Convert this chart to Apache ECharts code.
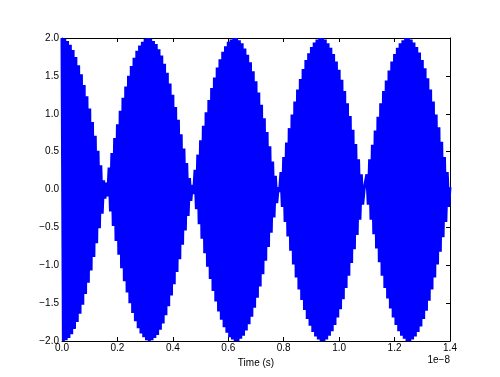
<!DOCTYPE html>
<html><head><meta charset="utf-8">
<script src="https://cdn.jsdelivr.net/npm/echarts@6/dist/echarts.min.js"></script>
<style>html,body{margin:0;padding:0;background:#fff}#c{width:500px;height:377px}</style>
</head><body><div id="c"></div>
<script>
// Time step between successive carrier peaks, in units of 1e-8 s
var timeStep = 0.01;
// Envelope amplitude read at each carrier peak (t = 0, 0.01, 0.02, ... x 1e-8 s)
var envelopePeaks = [
2.00,1.99,1.96,1.91,1.84,1.75,1.64,1.52,1.38,1.23,1.07,0.89,0.71,0.51,0.32,0.12,
0.09,0.29,0.48,0.68,0.86,1.04,1.21,1.36,1.50,1.63,1.74,1.83,1.90,1.95,1.99,2.00,
1.99,1.96,1.92,1.85,1.77,1.66,1.54,1.40,1.25,1.09,0.92,0.73,0.54,0.35,0.15,
0.06,0.26,0.46,0.65,0.84,1.02,1.18,1.34,1.48,1.61,1.72,1.82,1.89,1.95,1.98,2.00,
2.00,1.97,1.93,1.86,1.78,1.68,1.56,1.43,1.28,1.12,0.94,0.76,0.57,0.37,0.18,
0.03,0.23,0.43,0.62,0.81,0.99,1.16,1.32,1.46,1.59,1.71,1.80,1.88,1.94,1.98,2.00,
2.00,1.98,1.93,1.87,1.79,1.69,1.58,1.45,1.30,1.14,0.97,0.79,0.60,0.40,0.20,
0.00,0.20,0.40,0.59,0.78,0.96,1.14,1.30,1.44,1.57,1.69,1.79,1.87,1.93,1.97,2.00,
2.00,1.98,1.94,1.88,1.81,1.71,1.60,1.47,1.32,1.16,0.99,0.82,0.63,0.43,0.23,0.03
];
var xTicks = [0.0,0.2,0.4,0.6,0.8,1.0,1.2,1.4];
var yTicks = [-2.0,-1.5,-1.0,-0.5,0.0,0.5,1.0,1.5,2.0];

// signal: positive peak at each step, negative trough half a step later
var signal = [];
envelopePeaks.forEach(function(a, i){
  var t = i * timeStep;
  signal.push([t, a]);
  if (i < envelopePeaks.length - 1) signal.push([t + timeStep/2, -a]);
});

var FONT = '"Liberation Sans", Arial, sans-serif';
function fmtY(v){ return (v < 0 ? '\u2212' : '') + Math.abs(v).toFixed(1); }
var axisCommon = {
  type: 'value',
  axisLine: {show: true, onZero: false, lineStyle: {color: '#000', width: 1}},
  axisTick: {show: true, inside: true, length: 4, lineStyle: {color: '#000'}},
  splitLine: {show: false}
};
var chart = echarts.init(document.getElementById('c'), null, {renderer: 'canvas'});
chart.setOption({
  animation: false,
  backgroundColor: '#fff',
  grid: {left: 62, right: 50, top: 38, bottom: 36, containLabel: false},
  xAxis: [
    Object.assign({}, axisCommon, {position: 'bottom', min: xTicks[0], max: xTicks[xTicks.length-1], interval: 0.2,
      axisLabel: {color: '#000', fontFamily: FONT, fontSize: 10, margin: 2,
        formatter: function(v){ return v.toFixed(1); }},
      name: 'Time (s)', nameLocation: 'middle', nameGap: 15,
      nameTextStyle: {color: '#000', fontFamily: FONT, fontSize: 10}}),
    Object.assign({}, axisCommon, {position: 'top', min: xTicks[0], max: xTicks[xTicks.length-1], interval: 0.2,
      axisLabel: {show: false}})
  ],
  yAxis: [
    Object.assign({}, axisCommon, {position: 'left', min: yTicks[0], max: yTicks[yTicks.length-1], interval: 0.5,
      axisLabel: {color: '#000', fontFamily: FONT, fontSize: 10, margin: 3, formatter: fmtY}}),
    Object.assign({}, axisCommon, {position: 'right', min: yTicks[0], max: yTicks[yTicks.length-1], interval: 0.5,
      axisLabel: {show: false}})
  ],
  graphic: [{
    type: 'text', right: 50, top: 355,
    style: {text: '1e\u22128', fill: '#000', font: '10px "Liberation Sans", Arial, sans-serif', textAlign: 'right'}
  }],
  series: [{
    type: 'line', data: signal, showSymbol: false, sampling: false,
    lineStyle: {color: '#0000ff', width: 3}, itemStyle: {color: '#0000ff'},
    clip: true, z: 1
  }]
});
</script></body></html>
